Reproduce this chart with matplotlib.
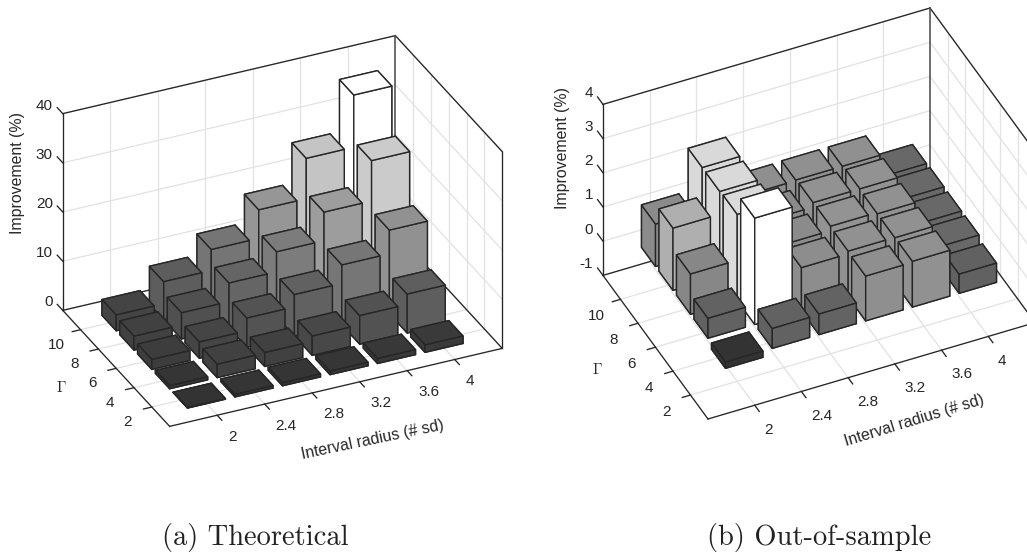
import numpy as np
import matplotlib
matplotlib.use("Agg")
import matplotlib.pyplot as plt
from matplotlib.colors import LinearSegmentedColormap, Normalize
from mpl_toolkits.mplot3d import proj3d

plt.rcParams['font.family'] = ['Liberation Sans', 'DejaVu Sans']
plt.rcParams['mathtext.fontset'] = 'cm'

# eixos
radius = [2, 2.4, 2.8, 3.2, 3.6, 4]
gamma = [2, 4, 6, 8, 10]
radius_labels = ['2', '2.4', '2.8', '3.2', '3.6', '4']
gamma_labels = ['2', '4', '6', '8', '10']

# linhas = gamma (2..10), colunas = radius (2..4)
theoretical = [
    [0.1, 0.5, 0.6, 0.7, 1.0, 1.5],
    [0.6, 2.7, 2.8, 3.9, 5.8, 7.9],
    [2.0, 3.3, 5.9, 8.4, 12.2, 17.0],
    [2.8, 5.3, 9.1, 13.2, 19.0, 27.2],
    [3.2, 7.7, 12.0, 17.8, 26.0, 36.6],
]
out_of_sample = [
    [-0.18, 0.58, 0.60, 1.31, 1.34, 0.56],
    [0.58, 3.11, 1.26, 1.34, 1.33, 0.68],
    [1.18, 2.52, 1.24, 1.37, 1.33, 0.68],
    [1.82, 2.49, 1.23, 1.36, 1.36, 0.69],
    [1.24, 2.49, 1.30, 1.32, 1.32, 0.67],
]
ticks_a = [0, 10, 20, 30, 40]
ticks_b = [-1, 0, 1, 2, 3, 4]

XLIM = (1.6, 4.4)
YLIM = (0, 12)
EDGE = '#262626'
cinza = LinearSegmentedColormap.from_list('cinza', ['#333333', '#ffffff'])


def to_px(ax, x, y, z):
    px, py, _ = proj3d.proj_transform(x, y, z, ax.get_proj())
    return ax.transData.transform((px, py))


def encaixa(fig, ax, zlim, p_frente, p_fundo):
    # ajusta a posicao do eixo para os cantos cairem nos pixels certos
    H = fig.bbox.height
    alvo1 = np.array([p_frente[0], H - p_frente[1]])
    alvo2 = np.array([p_fundo[0], H - p_fundo[1]])
    for _ in range(3):
        fig.canvas.draw()
        a = to_px(ax, XLIM[0], YLIM[0], zlim[0])
        b = to_px(ax, XLIM[1], YLIM[1], zlim[1])
        pos = ax.get_position()
        esc = np.linalg.norm(alvo2 - alvo1) / np.linalg.norm(b - a)
        lado = pos.width * esc
        cx = pos.x0 + pos.width / 2
        cy = pos.y0 + pos.height / 2
        meio_atual = (a + b) / 2
        centro = np.array([cx * fig.bbox.width, cy * fig.bbox.height])
        novo_centro = (alvo1 + alvo2) / 2 - (meio_atual - centro) * esc
        ax.set_position([novo_centro[0] / fig.bbox.width - lado / 2,
                         novo_centro[1] / fig.bbox.height - lado / 2 * fig.bbox.width / fig.bbox.height,
                         lado, lado * fig.bbox.width / fig.bbox.height])
    fig.canvas.draw()


def rotulo(fig, ax, ponto, desloc, s, ha):
    # rotulo de marca: ponto do eixo projetado + deslocamento em pixels
    dx, dy = to_px(ax, *ponto)
    fig.text((dx + desloc[0]) / fig.bbox.width, (dy - desloc[1]) / fig.bbox.height, s,
             fontsize=11, color=EDGE, ha=ha, va='center')


def painel(fig, valores, zticks, elev, azim, aspecto, off, p_frente, p_fundo):
    ax = fig.add_axes([0.1, 0.1, 0.8, 0.8], projection='3d', computed_zorder=False)
    ax.patch.set_visible(False)
    zlim = (zticks[0], zticks[-1])
    ax.set_proj_type('ortho')
    ax.view_init(elev=elev, azim=azim)
    ax.set_box_aspect(aspecto)
    ax.set_xlim(*XLIM, view_margin=0)
    ax.set_ylim(*YLIM, view_margin=0)
    ax.set_zlim(*zlim, view_margin=0)
    ax.set_xticks([])
    ax.set_yticks([])
    ax.set_zticks([])
    ax.set_axis_off()

    x0, x1 = XLIM
    y0, y1 = YLIM
    z0, z1 = zlim
    grade = dict(color='#e2e2e2', lw=0.9, zorder=1)
    for x in radius:
        ax.plot([x, x], [y0, y1], [z0, z0], **grade)
        ax.plot([x, x], [y1, y1], [z0, z1], **grade)
    for y in gamma:
        ax.plot([x0, x1], [y, y], [z0, z0], **grade)
        ax.plot([x1, x1], [y, y], [z0, z1], **grade)
    for z in zticks:
        ax.plot([x0, x1], [y1, y1], [z, z], **grade)
        ax.plot([x1, x1], [y0, y1], [z, z], **grade)

    caixa = dict(color=EDGE, lw=0.95, zorder=2)
    ax.plot([x0, x1], [y0, y0], [z0, z0], **caixa)
    ax.plot([x0, x0], [y0, y1], [z0, z0], **caixa)
    ax.plot([x0, x1], [y1, y1], [z0, z0], **caixa)
    ax.plot([x1, x1], [y0, y1], [z0, z0], **caixa)
    ax.plot([x0, x1], [y1, y1], [z1, z1], **caixa)
    ax.plot([x1, x1], [y0, y1], [z1, z1], **caixa)
    ax.plot([x0, x0], [y1, y1], [z0, z1], **caixa)
    ax.plot([x1, x1], [y0, y0], [z0, z1], **caixa)
    ax.plot([x1, x1], [y1, y1], [z0, z1], color='#555555', lw=1.2, zorder=2)

    # marcas
    for x in radius:
        ax.plot([x, x], [y0, y0 - 0.52], [z0, z0], **caixa)
    for y in gamma:
        ax.plot([x0, x0 - 0.07], [y, y], [z0, z0], **caixa)
    for z in zticks:
        ax.plot([x0, x0], [y1, y1 + 0.62], [z, z], **caixa)

    # barras de tras para frente (base em zero, como no bar3)
    v = np.array(valores)
    norm = Normalize(v.min(), v.max())
    n = 10
    larg = 0.8 * (radius[1] - radius[0])
    prof = 0.8 * (gamma[1] - gamma[0])
    for j in range(len(gamma) - 1, -1, -1):
        for i in range(len(radius) - 1, -1, -1):
            h = v[j, i]
            ax.bar3d(radius[i] - larg / 2, gamma[j] - prof / 2, min(h, 0), larg, prof, abs(h),
                     color=cinza(norm(h)), edgecolor=EDGE, linewidth=1.0, shade=False, zorder=n)
            n += 1
    encaixa(fig, ax, zlim, p_frente, p_fundo)

    for x, lab in zip(radius, radius_labels):
        rotulo(fig, ax, (x, y0, z0), off['x'], lab, 'left')
    for y, lab in zip(gamma, gamma_labels):
        rotulo(fig, ax, (x0, y, z0), off['y'], lab, 'center')
    for z in zticks:
        rotulo(fig, ax, (x0, y1, z), off['z'], str(z), 'right')
    return ax


fig = plt.figure(figsize=(10.27, 5.53), dpi=100)

painel(fig, theoretical, ticks_a, 30.3, -114.93, (367.3, 253.9, 228.2),
       dict(x=(11, 21.5), y=(-24, 15), z=(-10, -8)), (169, 426), (396, 36))
painel(fig, out_of_sample, ticks_b, 39.4, -114.9, (360, 249, 221),
       dict(x=(9.5, 24.3), y=(-24, 17), z=(-10, -11.5)), (708, 419), (930, 8))


def texto(px, py, s, **kw):
    fig.text(px / 1027, 1 - py / 553, s, ha='center', va='center', **kw)


texto(18, 173, 'Improvement (%)', rotation=90, fontsize=11.4, color=EDGE)
texto(61, 388, r'$\Gamma$', fontsize=11, color=EDGE)
texto(373, 440, 'Interval radius (# sd)', rotation=11.8, fontsize=11.4, color=EDGE)
texto(563, 148, 'Improvement (%)', rotation=90, fontsize=11.4, color=EDGE)
texto(597, 370, r'$\Gamma$', fontsize=11, color=EDGE)
texto(914, 421, 'Interval radius (# sd)', rotation=17, fontsize=11.4, color=EDGE)
texto(255, 537, '(a) Theoretical', fontsize=20.5, family='cmr10', color='#222222')
texto(819, 537, '(b) Out-of-sample', fontsize=20.5, family='cmr10', color='#222222')

fig.savefig("out.png", dpi=100)
plt.close(fig)
